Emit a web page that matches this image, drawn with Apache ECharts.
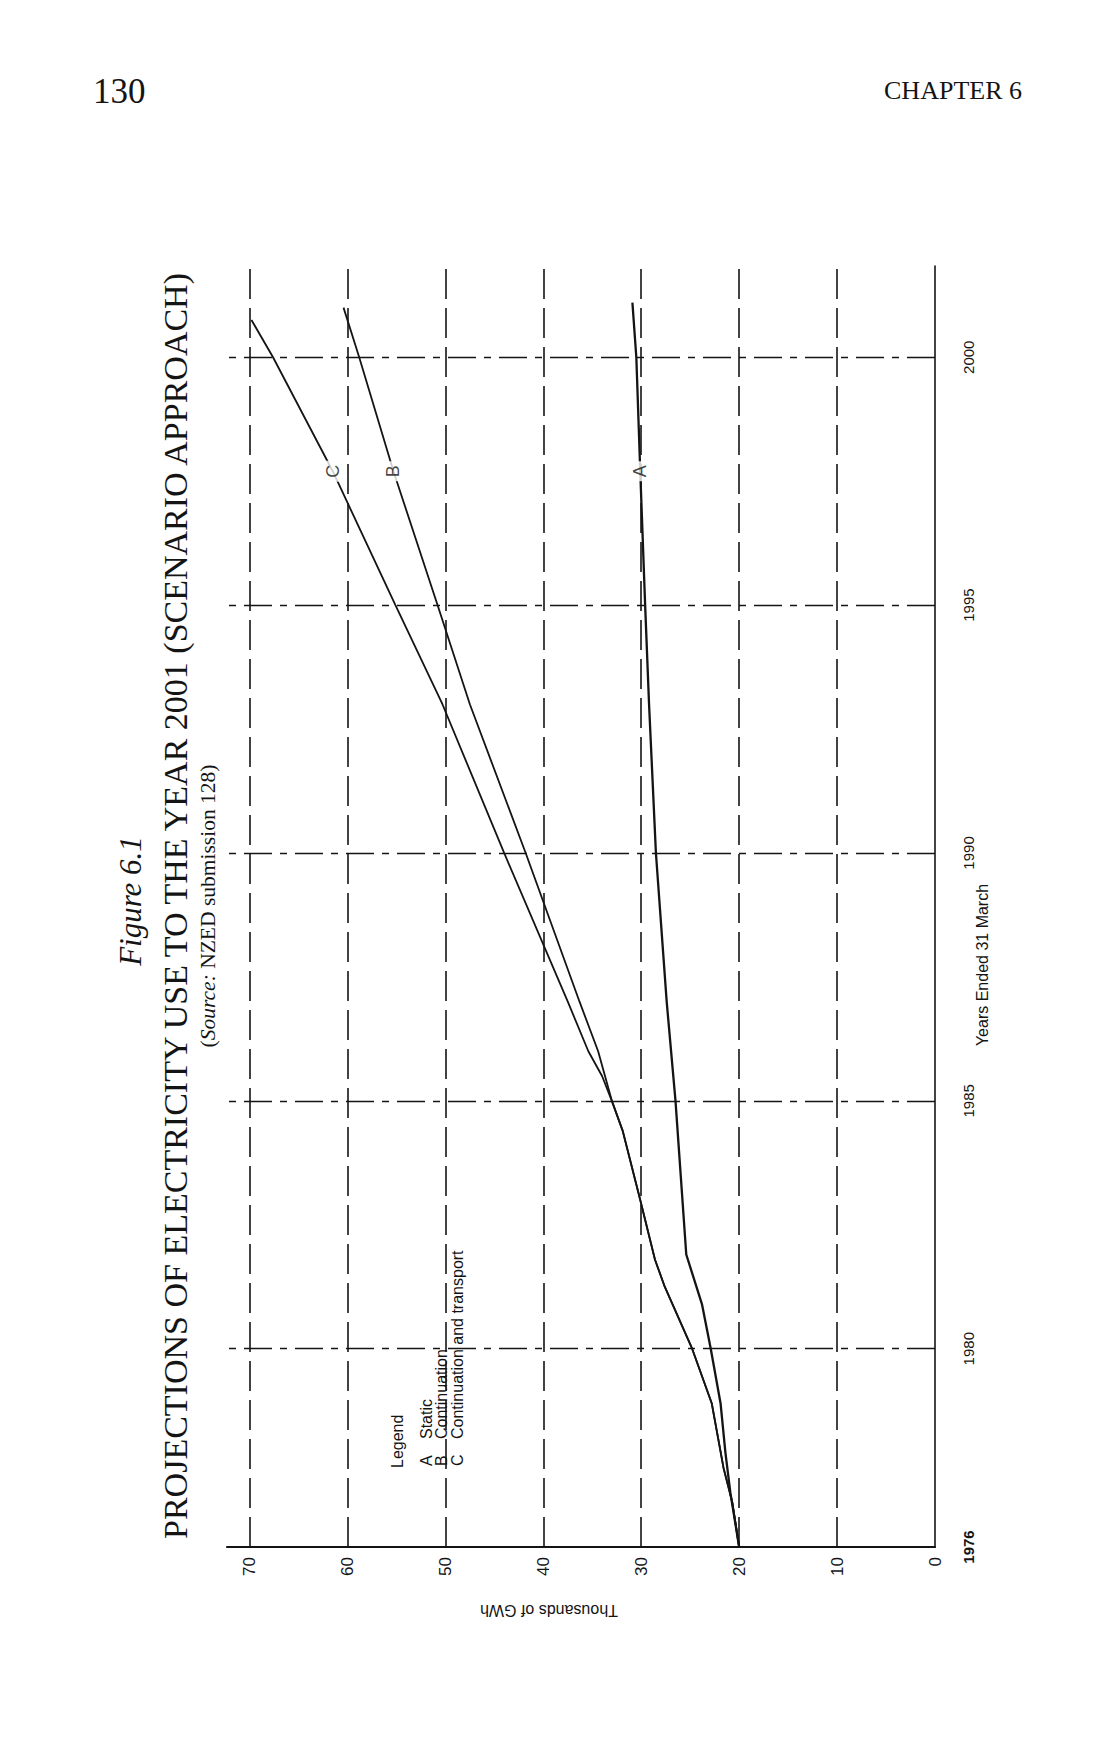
<!DOCTYPE html>
<html><head><meta charset="utf-8">
<script src="https://cdn.jsdelivr.net/npm/echarts@6/dist/echarts.min.js"></script>
<style>html,body{margin:0;padding:0;background:#fff}#c{width:1114px;height:1738px}</style>
</head><body><div id="c"></div>
<script>
// ---- data ----
const yearTickLabels = [1976, 1980, 1985, 1990, 1995, 2000];
const valueTickLabels = [0, 10, 20, 30, 40, 50, 60, 70];
const valueGridLines = [10, 20, 30, 40, 50, 60, 70];
const yearGridLines = [1980, 1985, 1990, 1995, 2000];

// A  Static
const yearsA  = [1976, 1977.1, 1977.9, 1978.9, 1980, 1980.9, 1981.9, 1985, 1987, 1990, 1993, 1995, 1997.7, 2000, 2001.1];
const valuesA = [20.0, 20.9, 21.4, 21.9, 22.9, 23.8, 25.4, 26.5, 27.4, 28.5, 29.2, 29.6, 30.1, 30.5, 30.9];
// B  Continuation
const yearsB  = [1976, 1976.9, 1977.6, 1978.9, 1980, 1981.25, 1981.8, 1983, 1984.4, 1985, 1986, 1987, 1990, 1993, 1995, 1997.7, 2000, 2001];
const valuesB = [20.0, 20.7, 21.6, 22.8, 24.8, 27.6, 28.6, 30.1, 31.9, 33.0, 34.4, 36.3, 41.8, 47.5, 50.8, 55.3, 58.8, 60.4];
// C  Continuation and transport
const yearsC  = [1976, 1976.9, 1977.6, 1978.9, 1980, 1981.25, 1981.8, 1983, 1984.4, 1985, 1985.5, 1986, 1987, 1990, 1993, 1995, 1997.7, 2000, 2000.75];
const valuesC = [20.0, 20.7, 21.6, 22.8, 24.8, 27.6, 28.6, 30.1, 31.9, 33.0, 34.0, 35.4, 37.5, 44.0, 50.3, 55.1, 61.5, 67.6, 69.8];

const lineLetters = ['A', 'B', 'C'];
const letterYears = [1997.7, 1997.7, 1997.7];
const letterValues = [30.1, 55.3, 61.5];

const legendLetters = ['A', 'B', 'C'];
const legendNames = ['Static', 'Continuation', 'Continuation and transport'];

// ---- chart ----
const INK = '#141414';
const SANS = '"Liberation Sans", Arial, sans-serif';
const SERIF = '"Liberation Serif", "Times New Roman", serif';
const pairs = (ys, vs) => ys.map((y, i) => [vs[i], y]);

const chart = echarts.init(document.getElementById('c'), null, {renderer: 'svg'});

const gridLineData = [
  ...valueGridLines.map(v => ({xAxis: v, lineStyle: {type: [30, 9], width: 1.6, color: INK}})),
  ...yearGridLines.map(y => ({yAxis: y, lineStyle: {type: [28, 8, 7, 8], width: 1.3, color: INK}}))
];

const lineSeries = (name, ys, vs, w) => ({
  name, type: 'line', data: pairs(ys, vs), symbol: 'none', smooth: false,
  lineStyle: {color: INK, width: w}, z: 3, animation: false
});

const letterLabel = {
  show: true, position: 'inside', rotate: 90, formatter: p => p.name,
  fontFamily: SANS, fontSize: 18, color: INK, backgroundColor: '#fff', padding: [3, 4]
};

const legendGraphics = [];
legendGraphics.push({type: 'text', x: 397, y: 1468, rotation: Math.PI / 2,
  style: {text: 'Legend', fontFamily: SANS, fontSize: 16, fill: INK, align: 'left', verticalAlign: 'middle'}});
legendLetters.forEach((l, i) => {
  const x = 426 + i * 15.5;
  legendGraphics.push({type: 'text', x, y: 1466, rotation: Math.PI / 2,
    style: {text: l, fontFamily: SANS, fontSize: 16, fill: INK, align: 'left', verticalAlign: 'middle'}});
  legendGraphics.push({type: 'text', x, y: 1439, rotation: Math.PI / 2,
    style: {text: legendNames[i], fontFamily: SANS, fontSize: 16, fill: INK, align: 'left', verticalAlign: 'middle'}});
});

chart.setOption({
  animation: false,
  backgroundColor: '#fff',
  grid: {left: 227, right: 179, top: 266, bottom: 191},
  xAxis: {
    type: 'value', min: 0, max: 72.3, interval: 10, inverse: true, position: 'bottom',
    axisLine: {show: true, lineStyle: {color: INK, width: 2.2}},
    axisTick: {show: false}, splitLine: {show: false},
    axisLabel: {
      rotate: 90, margin: 10, fontFamily: SANS, fontSize: 17, color: INK, showMaxLabel: false,
      formatter: v => valueTickLabels.includes(v) ? String(v) : ''
    }
  },
  yAxis: {
    type: 'value', min: 1976, max: 2001.84, interval: 1, position: 'right',
    axisLine: {show: true, onZero: false, lineStyle: {color: INK, width: 1.6}},
    axisTick: {show: false}, splitLine: {show: false},
    axisLabel: {
      rotate: 90, margin: 26, fontFamily: SANS, fontSize: 15, color: INK, showMaxLabel: false,
      formatter: v => yearTickLabels.includes(v) ? (v === 1976 ? '{b|' + v + '}' : String(v)) : '',
      rich: {b: {fontWeight: 'bold', fontFamily: SANS, fontSize: 15, color: INK}}
    }
  },
  series: [
    {
      type: 'line', data: [[0, 1976]], symbol: 'none', lineStyle: {opacity: 0}, z: 1, silent: true,
      markLine: {symbol: 'none', silent: true, label: {show: false}, animation: false, data: gridLineData}
    },
    lineSeries('A', yearsA, valuesA, 2.3),
    lineSeries('B', yearsB, valuesB, 1.8),
    lineSeries('C', yearsC, valuesC, 1.8),
    {
      type: 'scatter', symbolSize: 1, itemStyle: {color: 'rgba(0,0,0,0)'}, z: 5, silent: true,
      data: lineLetters.map((l, i) => ({value: [letterValues[i], letterYears[i]], name: l, label: letterLabel})),
      label: letterLabel
    }
  ],
  graphic: [
    {type: 'text', x: 93, y: 91, style: {text: '130', fontFamily: SERIF, fontSize: 35, fill: INK, align: 'left', verticalAlign: 'middle'}},
    {type: 'text', x: 1022, y: 90, style: {text: 'CHAPTER 6', fontFamily: SERIF, fontSize: 26, fill: INK, align: 'right', verticalAlign: 'middle'}},
    {type: 'text', x: 130, y: 901, rotation: Math.PI / 2,
      style: {text: 'Figure 6.1', fontFamily: SERIF, fontStyle: 'italic', fontSize: 31, fill: INK, align: 'center', verticalAlign: 'middle'}},
    {type: 'text', x: 175, y: 906, rotation: Math.PI / 2,
      style: {text: 'PROJECTIONS OF ELECTRICITY USE TO THE YEAR 2001 (SCENARIO APPROACH)', fontFamily: SERIF, fontSize: 34, fill: INK, align: 'center', verticalAlign: 'middle'}},
    {type: 'text', x: 208, y: 906, rotation: Math.PI / 2,
      style: {text: '{p|(}{i|Source:}{p| NZED submission 128)}', align: 'center', verticalAlign: 'middle',
        rich: {p: {fontFamily: SERIF, fontSize: 21.5, fill: INK, color: INK}, i: {fontFamily: SERIF, fontStyle: 'italic', fontSize: 21.5, fill: INK, color: INK}}}},
    {type: 'text', x: 549, y: 1610, rotation: Math.PI,
      style: {text: 'Thousands of GWh', fontFamily: SANS, fontSize: 16, fill: INK, align: 'center', verticalAlign: 'middle'}},
    {type: 'text', x: 982, y: 965, rotation: Math.PI / 2,
      style: {text: 'Years Ended 31 March', fontFamily: SANS, fontSize: 16, fill: INK, align: 'center', verticalAlign: 'middle'}},
    ...legendGraphics
  ]
});
</script></body></html>
